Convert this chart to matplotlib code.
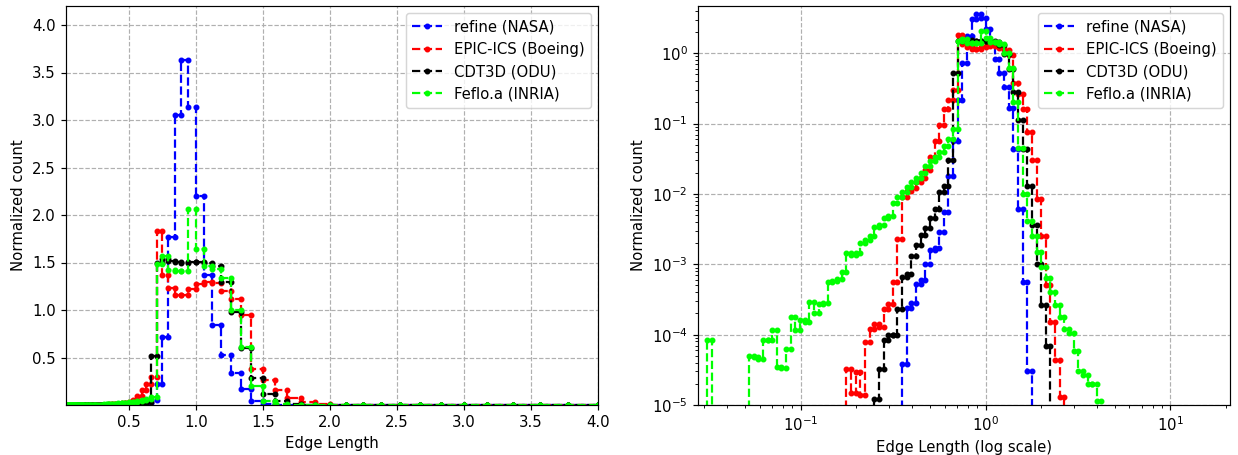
import numpy as np
import matplotlib
matplotlib.use('Agg')
from matplotlib import pyplot as plt

# histogram bins: 12 per octave, edge k at 2**(k/12), k = -62 ... 31
first_exp = -62
n_edges = 94

# normalized counts per bin (bin k = -62 ... 30)
refine = [0.0] * 44 + [
    3.8e-5, 2.4e-4, 2.8e-4, 5.2e-4, 6.0e-4, 1.0e-3, 1.6e-3, 1.7e-3, 2.9e-3, 5.5e-3,
    1.8e-2, 5.6e-2, 0.22, 0.72, 1.77, 3.05, 3.63, 3.14, 2.20, 1.37,
    0.84, 0.53, 0.335, 0.167, 0.044, 6.2e-3, 5.6e-4, 3.0e-5] + [0.0] * 21

epic = [0.0] * 32 + [
    3.3e-5, 1.5e-5, 2.9e-5, 1.4e-5, 7.8e-5, 1.2e-4, 1.4e-4, 1.3e-4, 2.3e-4, 2.7e-4,
    5.6e-4, 2.3e-3, 9.0e-3, 1.1e-2, 1.2e-2, 1.5e-2, 1.7e-2, 2.2e-2, 3.4e-2, 5.7e-2,
    9.5e-2, 0.16, 0.22, 0.30, 1.83, 1.37, 1.23, 1.16, 1.16, 1.22,
    1.27, 1.29, 1.28, 1.20, 1.12, 0.95, 0.38, 0.26, 0.16, 0.075,
    0.030, 8.5e-3, 2.5e-3, 5.0e-4, 1.5e-4, 4.3e-5, 1.3e-5] + [0.0] * 14

cdt3d = [0.0] * 38 + [
    1.2e-5, 3.2e-5, 8.5e-5, 9.8e-5, 1.0e-4, 2.3e-4, 6.6e-4, 7.4e-4, 1.3e-3, 1.9e-3,
    2.6e-3, 3.3e-3, 4.5e-3, 6.1e-3, 1.05e-2, 1.3e-2, 3.0e-2, 0.52, 1.50, 1.54,
    1.52, 1.51, 1.50, 1.51, 1.51, 1.50, 1.46, 1.29, 0.98, 0.60,
    0.28, 0.114, 0.044, 0.013, 3.6e-3, 1.0e-3, 2.6e-4, 6.8e-5] + [0.0] * 17

feflo = [0.0, 0.0, 8.5e-5] + [0.0] * 8 + [
    5.0e-5, 4.8e-5, 4.5e-5, 8.3e-5, 8.3e-5, 1.15e-4, 3.5e-5, 3.4e-5, 6.3e-5, 1.8e-4,
    1.15e-4, 1.6e-4, 1.5e-4, 2.9e-4, 2.05e-4, 2.75e-4, 2.8e-4, 5.6e-4, 5.8e-4, 6.2e-4,
    7.8e-4, 1.44e-3, 1.35e-3, 1.45e-3, 2.0e-3, 2.2e-3, 2.5e-3, 3.4e-3, 3.6e-3, 4.6e-3,
    4.8e-3, 7.5e-3, 9.0e-3, 1.05e-2, 1.25e-2, 1.5e-2, 1.7e-2, 2.0e-2, 2.5e-2, 2.9e-2,
    3.4e-2, 4.0e-2, 4.8e-2, 6.0e-2, 8.5e-2, 1.48, 1.57, 1.42, 1.41, 1.41,
    2.06, 1.64, 1.46, 1.43, 1.34, 1.00, 0.61, 0.20, 0.045, 1.0e-2,
    4.1e-3, 2.5e-3, 1.5e-3, 9.2e-4, 6.3e-4, 4.1e-4, 2.6e-4, 1.8e-4, 1.2e-4, 1.05e-4,
    5.8e-5, 3.0e-5, 2.7e-5, 2.0e-5, 2.0e-5, 1.15e-5] + [0.0] * 6

series = [(refine, 'b', 'refine (NASA)'),
          (epic, 'r', 'EPIC-ICS (Boeing)'),
          (cdt3d, 'k', 'CDT3D (ODU)'),
          (feflo, 'lime', 'Feflo.a (INRIA)')]

edges = 2.0 ** ((first_exp + np.arange(n_edges)) / 12.0)


def steps(vals):
	# one point at each end of every bin
	xs = np.column_stack([edges[:-1], edges[1:]]).ravel()
	ys = np.repeat(np.asarray(vals, dtype=float), 2)
	return xs, ys


# a bit more than 100 dpi, the original text and lines are slightly larger
dpi = 107
fig = plt.figure(figsize=(1238. / dpi, 455. / dpi), dpi=dpi)
ax = fig.add_axes([66/1238., 50/455., 532/1238., 399/455.])
ax2 = fig.add_axes([698/1238., 50/455., 532/1238., 399/455.])

for vals, col, lab in series:
	xs, ys = steps(vals)
	ax.plot(xs, ys, '--', marker='.', color=col, label=lab)
	ax2.plot(xs, ys, '--', marker='.', color=col, label=lab)

ax.set_xlim(0.03, 4.0)
ax.set_ylim(0.0, 4.2)
ax.set_xticks([0.5, 1.0, 1.5, 2.0, 2.5, 3.0, 3.5, 4.0])
ax.set_yticks([0.5, 1.0, 1.5, 2.0, 2.5, 3.0, 3.5, 4.0])
ax.set_xlabel('Edge Length')
ax.set_ylabel('Normalized count')
ax.grid(True, linestyle='--')
ax.legend(loc='upper right')

ax2.set_xscale('log')
ax2.set_yscale('log')
ax2.set_xlim(2.0 ** (first_exp / 12.0), 21.0)
ax2.set_ylim(1e-5, 4.7)
ax2.set_xlabel('Edge Length (log scale)')
ax2.set_ylabel('Normalized count')
ax2.grid(True, linestyle='--')
ax2.legend(loc='upper right')

fig.savefig('out.png', dpi=dpi)
